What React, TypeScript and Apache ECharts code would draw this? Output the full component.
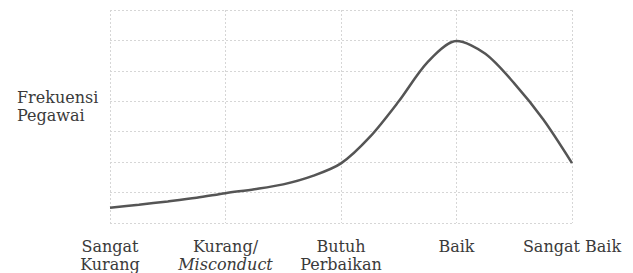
import React, { useEffect, useRef } from "react";
import * as echarts from "echarts";

const categories = ["Sangat\nKurang", "Kurang/\nMisconduct", "Butuh\nPerbaikan", "Baik", "Sangat Baik"];
// curve at quarter-category steps (0 = Sangat Kurang, 4 = Sangat Baik)
const curvePositions = [0, 0.25, 0.5, 0.75, 1, 1.25, 1.5, 1.75, 2, 2.25, 2.5, 2.75, 3, 3.25, 3.5, 3.75, 4];
const frequency = [0.5, 0.6, 0.71, 0.83, 0.98, 1.11, 1.27, 1.54, 1.96, 2.83, 4.0, 5.29, 5.98, 5.56, 4.59, 3.41, 1.97];
const yAxisTitle = ["Frekuensi", "Pegawai"];

const FONT = "DejaVu Serif";
const TEXT_COLOR = "#3a3a3a";

export default function App() {
  const ref = useRef<HTMLDivElement>(null);
  useEffect(() => {
    if (!ref.current) return;
    const chart = echarts.init(ref.current, undefined, { renderer: "svg" });
    const gridLine = { show: true, lineStyle: { color: "#d6d6d6", type: [2, 2] as any, width: 1 } };
    const seriesData = curvePositions.map((x, i) => [x, frequency[i]]);
    chart.setOption({
      animation: false,
      backgroundColor: "#ffffff",
      grid: { left: 110, right: 61, top: 10, bottom: 45 },
      xAxis: [
        {
          type: "category",
          data: categories,
          boundaryGap: false,
          axisLine: { show: false },
          axisTick: { show: false },
          splitLine: gridLine,
          axisLabel: {
            margin: 14,
            interval: 0,
            color: TEXT_COLOR,
            fontFamily: FONT,
            fontSize: 16,
            lineHeight: 18,
            formatter: (v: string) => {
              if (v.indexOf("Misconduct") >= 0) {
                const parts = v.split("\n");
                return "{n|" + parts[0] + "}\n{i|" + parts[1] + "}";
              }
              return v
                .split("\n")
                .map((p) => "{n|" + p + "}")
                .join("\n");
            },
            rich: {
              n: { fontFamily: FONT, fontSize: 16, lineHeight: 18, color: TEXT_COLOR },
              i: { fontFamily: FONT, fontSize: 16, lineHeight: 18, color: TEXT_COLOR, fontStyle: "italic" },
            },
          },
        },
        {
          type: "value",
          min: 0,
          max: 4,
          show: false,
          splitLine: { show: false },
        },
      ],
      yAxis: {
        type: "value",
        min: 0,
        max: 7,
        interval: 1,
        axisLine: { show: false },
        axisTick: { show: false },
        axisLabel: { show: false },
        splitLine: gridLine,
      },
      graphic: [
        {
          type: "text",
          left: 17,
          top: 88,
          style: {
            text: yAxisTitle.join("\n"),
            fontFamily: FONT,
            fontSize: 16,
            lineHeight: 18,
            fill: TEXT_COLOR,
          },
        },
      ],
      series: [
        {
          type: "line",
          xAxisIndex: 1,
          data: seriesData,
          smooth: 0.3,
          symbol: "none",
          lineStyle: { color: "#555555", width: 2.5 },
        },
      ],
    });
    return () => chart.dispose();
  }, []);
  return (
    <div
      ref={ref}
      style={{ position: "fixed", left: 0, top: 0, width: 633, height: 273 }}
    />
  );
}
